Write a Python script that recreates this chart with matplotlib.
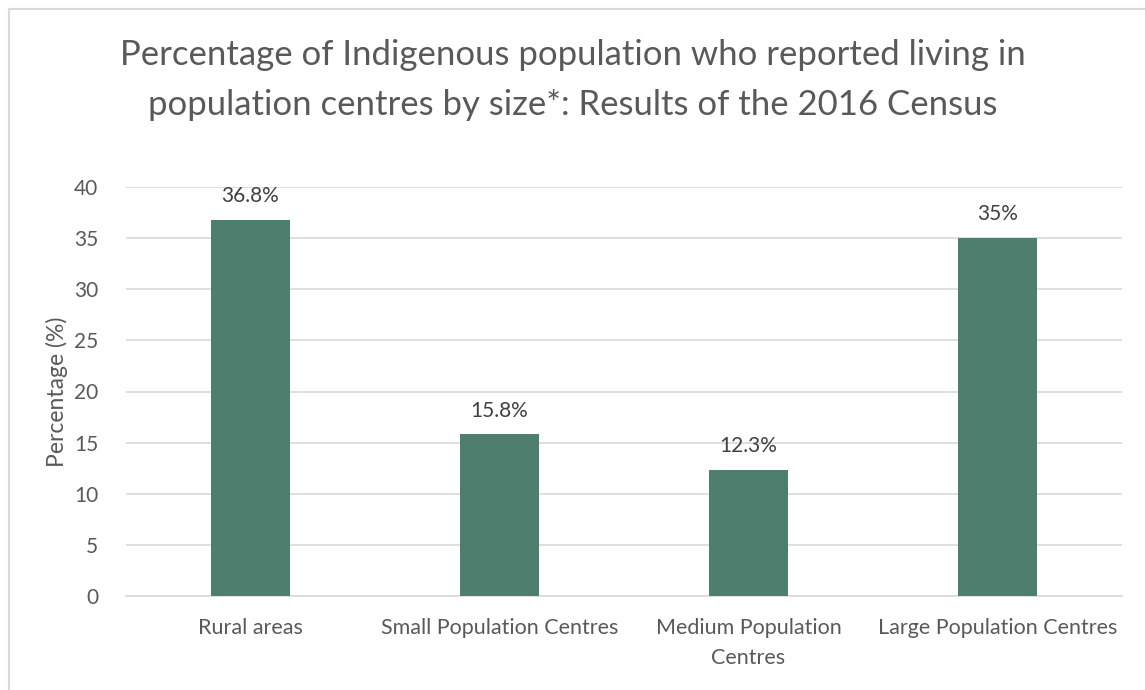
import matplotlib
matplotlib.use("Agg")
import matplotlib.pyplot as plt
from matplotlib.patches import Rectangle

categories = ["Rural areas", "Small Population Centres", "Medium Population\nCentres", "Large Population Centres"]
values = [36.8, 15.8, 12.3, 35.0]
labels = ["36.8%", "15.8%", "12.3%", "35%"]
yticks = [0, 5, 10, 15, 20, 25, 30, 35, 40]

plt.rcParams['font.family'] = ['Lato', 'DejaVu Sans']
txt = "#595959"
W, H = 1145, 690
fig = plt.figure(figsize=(W/100, H/100), dpi=100)
ax = fig.add_axes([126/W, 1-596/H, (1122-126)/W, (596-187)/H])

x = range(len(categories))
ax.bar(x, values, width=0.317, color="#4E7E6E", zorder=3)
for xi, v, lab in zip(x, values, labels):
    ax.annotate(lab, (xi, v), xytext=(0, 10), textcoords="offset points",
                ha="center", va="bottom", fontsize=15, color="#404040")
ax.set_xlim(-0.5, 3.5)
ax.set_ylim(0, 40)
ax.set_yticks(yticks)
ax.set_yticklabels([str(t) for t in yticks], fontsize=15, color=txt)
ax.set_xticks(list(x))
ax.set_xticklabels(categories, fontsize=15.5, color=txt, linespacing=1.6)
ax.tick_params(axis="x", length=0, pad=16)
ax.tick_params(axis="y", length=0, pad=20)
ax.grid(axis="y", color="#D9D9D9", linewidth=1.2, zorder=0)
for s in ["top", "right", "left"]:
    ax.spines[s].set_visible(False)
ax.spines["bottom"].set_color("#D9D9D9")
ax.spines["bottom"].set_linewidth(1.2)
ax.set_ylabel("Percentage (%)", fontsize=16.5, color=txt, labelpad=4)

fig.text(0.5, 1-80/H, "Percentage of Indigenous population who reported living in\npopulation centres by size*: Results of the 2016 Census",
         ha="center", va="center", fontsize=25, color=txt, linespacing=1.7)

fig.add_artist(Rectangle((9/W, -0.1), 1.2, 1-9/H+0.1, transform=fig.transFigure,
                         fill=False, edgecolor="#D9D9D9", linewidth=1.5))
fig.savefig("out.png", dpi=100, facecolor="white")
